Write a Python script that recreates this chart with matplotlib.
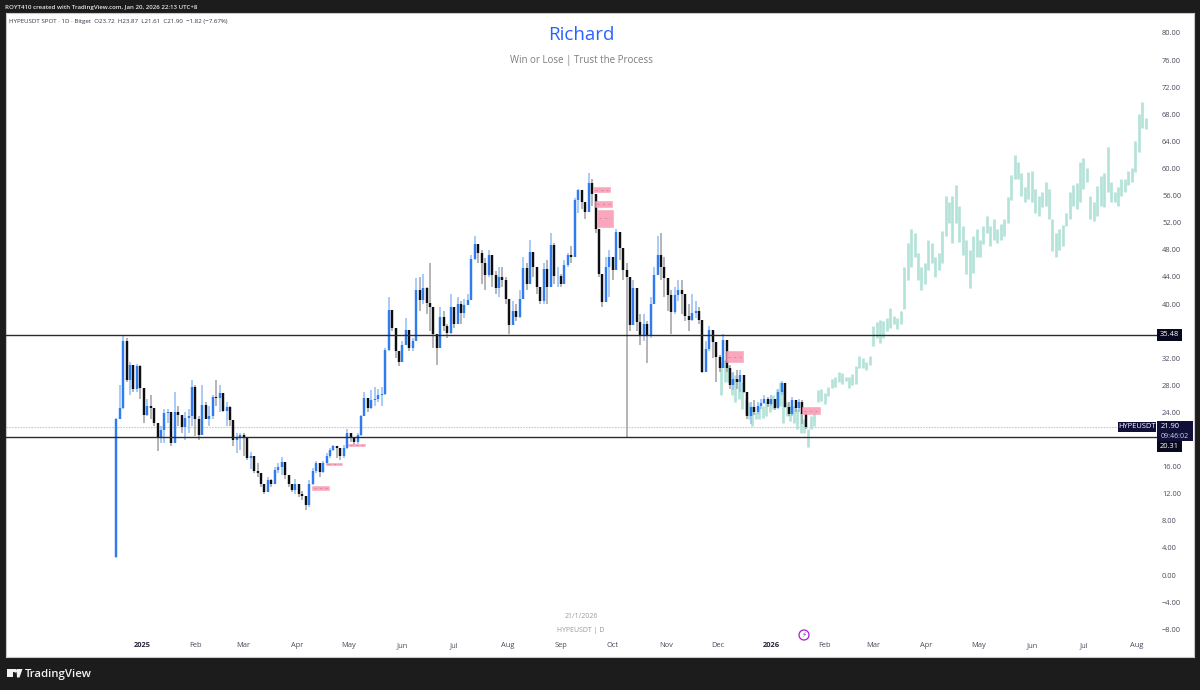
import matplotlib
matplotlib.use("Agg")
import matplotlib.pyplot as plt
from matplotlib.patches import Rectangle, Circle, Polygon

plt.rcParams['font.family'] = ['Open Sans', 'DejaVu Sans']

# ---- data -------------------------------------------------------------
first_day = -15          # days from 2025-01-01, one candle per two days
candle_close = [
 23.1,24.6,34.5,28.8,31.0,27.4,30.8,27.6,23.6,25.0,
 24.6,22.4,20.4,21.4,23.9,24.0,19.5,24.0,23.6,21.9,
 23.2,23.4,27.8,23.1,20.6,25.1,23.0,23.5,26.3,26.1,
 26.8,24.2,24.8,22.9,19.9,20.4,20.7,20.4,17.2,17.6,
 15.4,15.0,13.5,12.3,14.0,13.5,15.5,16.0,16.7,14.8,
 13.5,12.6,13.5,12.0,11.6,10.3,13.5,15.4,16.5,15.2,
 16.5,17.5,18.4,19.0,18.7,17.5,18.7,20.9,20.4,19.6,
 20.6,23.4,26.1,24.6,25.8,26.0,26.5,26.7,33.2,39.1,
 36.4,33.0,31.5,34.0,36.2,33.5,34.5,42.1,40.6,42.3,
 40.2,39.5,35.5,33.5,38.1,36.7,35.7,39.6,37.0,40.0,
 38.6,39.9,40.6,46.7,48.9,47.5,46.0,44.3,47.2,44.3,
 42.3,44.0,43.5,40.8,36.9,39.0,38.1,40.8,45.3,43.0,
 47.7,45.5,42.5,40.4,45.2,42.5,48.7,44.2,44.2,43.0,
 45.7,47.2,47.0,55.3,56.8,55.0,53.6,57.8,56.3,51.0,
 44.5,40.3,45.5,47.0,45.0,50.7,48.2,45.0,44.0,36.9,
 42.3,37.4,35.4,37.1,35.4,40.0,44.3,47.2,45.5,43.8,
 41.3,38.8,41.3,42.0,41.5,38.3,37.6,38.6,39.0,37.6,
 30.0,33.4,36.2,34.4,32.2,30.5,34.7,30.5,28.0,29.0,
 28.5,29.5,27.0,23.5,24.8,24.0,25.0,25.4,26.0,25.3,
 26.0,24.6,27.0,28.3,24.8,23.8,25.8,24.6,25.5,23.7,
 21.9]
candle_high = [
 23.2,28.0,35.4,35.0,31.5,31.0,31.2,31.0,27.6,26.0,
 26.5,24.6,22.4,22.0,24.5,24.5,24.0,27.0,25.0,23.6,
 24.0,24.5,28.8,28.0,23.5,28.0,25.5,25.0,26.5,28.8,
 28.0,26.8,25.5,25.0,22.9,21.0,21.0,21.0,20.4,18.2,
 17.6,16.5,15.0,13.5,14.5,14.2,16.0,16.5,17.4,16.7,
 14.8,13.5,14.2,13.5,12.4,11.6,14.0,15.8,16.9,16.5,
 16.8,18.0,18.8,19.2,19.0,18.7,19.2,21.5,21.0,20.4,
 20.9,23.6,27.0,26.1,27.3,27.8,27.5,27.7,33.5,41.0,
 39.1,36.4,33.0,34.5,38.0,36.2,35.0,43.8,44.0,44.5,
 42.5,46.0,39.5,35.5,39.6,39.0,37.0,41.5,39.6,41.0,
 40.5,40.8,41.5,47.2,50.0,48.9,48.0,46.8,48.0,47.2,
 44.8,45.5,45.5,44.0,40.8,40.5,40.0,42.0,47.0,46.0,
 49.5,47.7,45.5,42.5,46.0,46.5,50.5,49.0,45.5,44.5,
 46.5,47.5,48.5,55.6,57.0,56.8,55.0,59.3,58.5,56.3,
 51.0,44.5,47.0,48.0,47.0,51.0,50.7,48.2,46.0,44.0,
 43.5,42.3,38.5,38.5,37.5,41.0,45.5,50.0,50.5,47.0,
 43.8,42.0,42.5,43.5,43.5,41.5,40.0,41.5,40.5,39.5,
 37.6,34.5,36.8,36.0,34.4,32.5,35.5,34.7,31.0,30.0,
 30.2,30.2,29.5,27.0,25.5,25.8,25.5,26.0,26.5,26.3,
 26.6,26.0,27.5,28.6,28.3,25.5,26.3,25.8,26.0,25.8,
 23.9]
candle_low = [
 2.5,23.0,24.5,28.5,26.5,27.0,27.0,26.0,22.5,23.5,
 23.0,22.0,18.3,19.5,19.5,22.5,19.0,20.0,22.0,21.0,
 20.0,21.0,22.0,20.5,20.0,21.5,23.0,22.0,23.0,25.0,
 24.0,24.0,22.0,22.0,19.0,18.0,18.5,17.5,17.0,15.6,
 15.0,14.5,13.0,12.0,12.2,13.0,13.5,15.0,14.8,14.2,
 13.0,12.2,12.0,11.5,11.0,9.6,10.0,13.3,15.0,14.5,
 15.0,16.3,17.2,18.3,17.3,17.0,17.2,18.6,19.6,19.2,
 19.4,20.5,23.5,24.0,24.5,25.0,25.5,25.0,26.5,33.0,
 36.0,32.0,30.8,31.5,34.0,33.0,33.0,34.5,39.0,40.0,
 38.5,36.0,33.5,31.0,33.5,36.0,35.0,35.5,36.5,37.0,
 37.0,38.0,40.0,40.6,46.5,46.0,43.0,42.0,44.0,42.5,
 41.5,41.0,42.5,40.0,35.5,36.9,37.5,38.0,40.8,42.0,
 43.0,44.0,41.5,40.0,40.0,40.0,42.5,43.0,42.5,42.5,
 43.0,45.5,46.0,47.0,53.5,54.0,52.5,53.6,54.5,50.5,
 44.0,39.5,40.3,41.0,43.5,45.0,46.5,43.5,20.3,36.0,
 36.9,36.0,34.0,34.5,31.3,35.0,40.0,44.3,43.5,41.0,
 39.0,35.5,38.5,40.5,38.5,37.5,36.0,37.5,38.0,37.0,
 29.8,30.0,33.0,32.0,28.5,30.0,30.5,30.0,27.5,27.3,
 27.5,27.0,26.8,23.0,22.3,23.6,23.8,24.5,25.3,24.8,
 25.0,24.3,24.5,26.5,24.6,23.5,23.5,24.0,24.0,22.3,
 21.6]
first_open = 2.6

ghost_first_day = 336    # projected bars, one per two days
ghost_high = [
 31.5,31.7,31.0,30.0,29.5,29.0,28.5,26.0,25.5,25.0,24.0,25.0,25.0,25.5,26.0,26.5,
 27.5,28.5,27.5,25.5,25.0,25.0,24.5,24.0,23.0,21.5,23.5,24.5,27.3,27.5,26.8,27.8,
 28.9,29.2,30.0,29.8,29.2,29.2,29.7,30.9,32.3,32.1,31.4,32.3,36.7,37.4,37.6,37.5,
 38.0,39.4,38.3,38.0,39.0,45.5,49.0,51.0,50.5,47.5,45.5,46.0,49.5,49.0,46.9,47.5,
 50.8,56.0,55.0,56.0,57.6,54.5,51.5,49.5,48.0,50.0,51.0,49.5,51.5,53.0,51.5,52.5,
 51.0,51.8,52.5,55.8,59.0,62.0,61.0,59.3,57.3,59.5,59.7,57.0,56.0,56.6,58.0,57.0,
 52.5,50.5,51.0,51.6,53.5,56.5,57.5,57.8,61.0,61.5,60.0,56.0,55.0,57.4,58.9,59.3,
 63.2,58.0,56.5,57.3,58.5,58.5,59.7,60.0,64.0,68.0,69.8,67.5]
ghost_low = [
 26.6,28.5,28.5,26.5,25.5,26.0,24.5,23.8,23.0,22.0,23.0,23.0,23.2,23.4,24.0,24.5,
 25.0,25.0,22.5,23.5,22.8,22.5,21.5,21.0,21.0,18.9,21.5,22.0,25.5,25.7,25.2,26.4,
 27.6,27.7,28.5,28.2,28.6,27.6,28.0,28.2,30.5,30.5,30.3,31.0,33.8,35.0,34.2,35.0,
 36.0,36.5,37.0,36.3,37.0,39.3,43.5,45.5,47.0,43.5,42.0,43.0,45.0,46.0,44.0,45.0,
 46.0,50.0,52.0,49.0,52.0,49.2,47.2,44.5,42.3,44.6,47.0,47.0,48.8,50.5,48.6,49.5,
 49.0,49.5,50.0,52.0,55.3,58.5,58.5,56.0,55.0,55.5,55.0,53.5,53.0,54.3,54.5,52.5,
 47.8,47.0,48.0,48.5,51.5,52.5,54.5,54.0,55.0,57.0,58.0,52.5,52.3,53.0,54.5,54.3,
 56.5,55.0,55.0,54.5,56.0,56.5,57.5,58.0,59.5,62.5,66.0,65.8]

# pink zones: start day, end day, low price, high price
zone_start = [261.5, 262.7, 263.9, 338.7, 382.7, 98.6, 106.7, 119.5]
zone_end   = [271.4, 272.6, 273.1, 348.4, 393.2, 108.4, 116.0, 129.3]
zone_low   = [56.5, 54.3, 51.4, 31.44, 23.76, 12.55, 16.3, 19.05]
zone_high  = [57.27, 55.2, 53.9, 33.06, 24.8, 13.14, 16.55, 19.3]

level_prices = [35.48, 20.31]
last_price = 21.90
price_ticks = [80, 76, 72, 68, 64, 60, 56, 52, 48, 44, 40, 32, 28, 24,
               16, 12, 8, 4, 0, -4, -8]
month_days = [0, 31, 59, 90, 120, 151, 181, 212, 243, 273, 304, 334,
              365, 396, 424, 455, 485, 516, 546, 577]
month_labels = ['2025', 'Feb', 'Mar', 'Apr', 'May', 'Jun', 'Jul', 'Aug', 'Sep', 'Oct',
                'Nov', 'Dec', '2026', 'Feb', 'Mar', 'Apr', 'May', 'Jun', 'Jul', 'Aug']
# -----------------------------------------------------------------------

W, H = 1200, 690
fig = plt.figure(figsize=(W / 100, H / 100), dpi=100, facecolor='#1c1c1c')
L_PX, R_PX, T_PX, B_PX = 6, 1194, 13, 657
ax = fig.add_axes([L_PX / W, 1 - B_PX / H, (R_PX - L_PX) / W, (B_PX - T_PX) / H],
                  facecolor='white')
ax.set_xlim(-78.9, 610.1)
ax.set_ylim(-12.1, 82.95)
for s in ax.spines.values():
    s.set_color('#c8c8c8')
    s.set_linewidth(0.8)

TXT = '#4a4a5e'


def fx(p):
    return p / W


def fy(p):
    return 1 - p / H


# ghost bars
g_days = [ghost_first_day + 2 * i for i in range(len(ghost_high))]
ax.vlines(g_days, ghost_low, ghost_high, color='#b2e2d8', linewidth=1.9,
          capstyle='butt', zorder=1)

# candles
days = [first_day + 2 * i for i in range(len(candle_close))]
opens = [first_open] + candle_close[:-1]
ups = [c >= o for o, c in zip(opens, candle_close)]
for flag, wick_c, body_c in [(True, '#93bdf6', '#2f7cf0'), (False, '#a0a0a0', '#0e0e12')]:
    dd = [d for d, u in zip(days, ups) if u == flag]
    oo = [o for o, u in zip(opens, ups) if u == flag]
    cc = [c for c, u in zip(candle_close, ups) if u == flag]
    hh = [max(h, o, c) for h, o, c, u in zip(candle_high, opens, candle_close, ups) if u == flag]
    ll = [min(l, o, c) for l, o, c, u in zip(candle_low, opens, candle_close, ups) if u == flag]
    ax.vlines(dd, ll, hh, color=wick_c, linewidth=1.1, capstyle='butt', zorder=2)
    ax.vlines(dd, oo, cc, color=body_c, linewidth=1.75, capstyle='butt', zorder=3)

# levels
line_end = (1157 - 142) / 1.7244
for lv in level_prices:
    ax.plot([-78.9, line_end], [lv, lv], color='#2b2b2b', linewidth=1.0, zorder=4)
ax.plot([-78.9, (1118 - 142) / 1.7244], [last_price, last_price], color='#c9c9c9',
        linewidth=0.8, linestyle=(0, (1.5, 1)), zorder=0.5)

# pink zones
for a, b, lo, hi in zip(zone_start, zone_end, zone_low, zone_high):
    ax.add_patch(Rectangle((a, lo), b - a, hi - lo, facecolor='#f9a0b8', edgecolor='#f9a0b8',
                           linewidth=0.4, alpha=0.92, zorder=5))
    ax.plot([a + 1, b - 1], [(lo + hi) / 2] * 2, color='#d9768f', linewidth=0.5,
            linestyle=(0, (3, 5)), zorder=6)

# axes labels
ax.yaxis.tick_right()
ax.set_yticks(price_ticks)
ax.set_yticklabels(['%.2f' % p if p >= 0 else '\u2212%.2f' % -p for p in price_ticks],
                   fontsize=5.4, color=TXT)
ax.tick_params(axis='y', length=0, pad=-23)
ax.set_xticks(month_days)
ax.set_xticklabels(month_labels, fontsize=5.4, color=TXT)
ax.tick_params(axis='x', length=0, pad=-7)
for lab in ax.get_xticklabels():
    lab.set_verticalalignment('baseline')
    if lab.get_text() in ('2025', '2026'):
        lab.set_fontweight('bold')
        lab.set_color('#22223a')

# title block
fig.text(fx(581), fy(35), 'Richard', color='#2962ff', fontsize=13.5, ha='center', va='center')
fig.text(fx(581), fy(60), 'Win or Lose | Trust the Process', color='#7d7d7d', fontsize=7,
         ha='center', va='center')
fig.text(fx(581), fy(617), '21/1/2026', color='#9a9a9a', fontsize=5, ha='center', va='center')
fig.text(fx(581), fy(630), 'HYPEUSDT | D', color='#9a9a9a', fontsize=5, ha='center', va='center')

# header
fig.text(fx(5), fy(7), 'ROYT410 created with TradingView.com, Jan 20, 2026 22:13 UTC+8',
         color='#e8e8e8', fontsize=4.4, ha='left', va='center', fontweight='semibold')
fig.text(fx(9), fy(21),
         'HYPEUSDT SPOT \u00b7 1D \u00b7 Bitget  O23.72  H23.87  L21.61  C21.90  \u22121.82 (\u22127.67%)',
         color='#33334a', fontsize=4.4, ha='left', va='center')


# price tags
def tag(x0, y0, x1, y1, color):
    fig.add_artist(Rectangle((fx(x0), fy(y1)), (x1 - x0) / W, (y1 - y0) / H, facecolor=color,
                             edgecolor='none', transform=fig.transFigure, zorder=5))


def tag_text(x, y, s, c='white', size=5.4, ha='center'):
    fig.text(fx(x), fy(y), s, color=c, fontsize=size, ha=ha, va='center', zorder=6)


tag(1157, 329, 1182, 341, '#08081e')
tag_text(1169.5, 335, '35.48')
tag(1118, 422, 1156, 432, '#0f0f3a')
tag_text(1137, 427, 'HYPEUSDT')
tag(1157, 421, 1193, 441, '#0f0f3a')
tag_text(1170, 427, '21.90')
tag_text(1175, 436, '09:46:02', c='#d6d6e6', size=5)
tag(1157, 441, 1182, 452, '#08081e')
tag_text(1169.5, 446.5, '20.31')

# lightning marker
fig.add_artist(Circle((804, H - 635), 5, facecolor='white', edgecolor='#a020c8', linewidth=0.9,
                      transform=None, zorder=5))
fig.text(fx(804), fy(635), '\u26a1', color='#a020c8', fontsize=5, ha='center', va='center',
         family='DejaVu Sans', zorder=6)

# footer logo
logo = '#f2f2f2'
fig.add_artist(Rectangle((fx(6.5), fy(677)), 6 / W, 8 / H, facecolor=logo, edgecolor='none',
                         transform=fig.transFigure, zorder=5))
fig.add_artist(Rectangle((fx(6.5), fy(672)), 9 / W, 3 / H, facecolor=logo, edgecolor='none',
                         transform=fig.transFigure, zorder=5))
fig.add_artist(Circle((15.5, H - 671), 1.6, facecolor=logo, edgecolor='none', transform=None,
                      zorder=5))
fig.add_artist(Polygon([(fx(17), fy(677.5)), (fx(19.5), fy(677.5)), (fx(22.5), fy(669)), (fx(16.5), fy(669))],
                       closed=True, facecolor=logo, edgecolor='none', transform=fig.transFigure,
                       zorder=5))
fig.text(fx(25), fy(674), 'TradingView', color='#f2f2f2', fontsize=8.2, ha='left', va='center',
         fontweight='semibold')

fig.savefig('out.png', dpi=100, facecolor=fig.get_facecolor())
